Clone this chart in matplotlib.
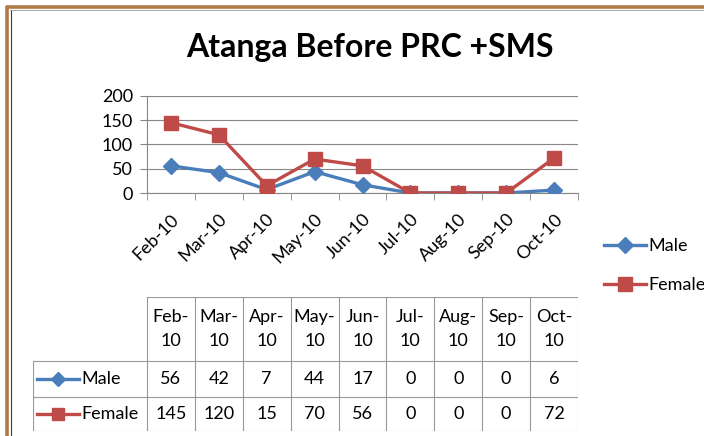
import matplotlib
matplotlib.use('Agg')
import matplotlib.pyplot as plt
from matplotlib.lines import Line2D
import numpy as np

plt.rcParams['font.family'] = ['Lato', 'DejaVu Sans']

title = 'Atanga Before PRC +SMS'
months = ['Feb-10', 'Mar-10', 'Apr-10', 'May-10', 'Jun-10', 'Jul-10', 'Aug-10', 'Sep-10', 'Oct-10']
male = [56, 42, 7, 44, 17, 0, 0, 0, 6]
female = [145, 120, 15, 70, 56, 0, 0, 0, 72]

BLUE = '#4a7ebb'
RED = '#be4b48'
GRID = '#878787'

W, H = 704, 436
fig = plt.figure(figsize=(W / 100, H / 100), dpi=100)


def fx(px):
    return px / W


def fy(py):
    return 1 - py / H


# brown frame round the chart (top and left edges are visible)
fig.add_artist(Line2D([fx(6), fx(704)], [fy(7.5), fy(7.5)], color='#b07a45', lw=2.6,
                      solid_capstyle='butt'))
fig.add_artist(Line2D([fx(7.5), fx(7.5)], [fy(6), fy(436)], color='#b07a45', lw=2.6,
                      solid_capstyle='butt'))
fig.add_artist(Line2D([fx(10.5), fx(10.5)], [fy(10), fy(436)], color='#3a3a3a', lw=0.8))
fig.add_artist(Line2D([fx(10), fx(704)], [fy(10.5), fy(10.5)], color='#9a9a9a', lw=0.6))

fig.text(fx(370), fy(48), title, ha='center', va='center', fontsize=23, fontweight='bold')

# line chart
x = np.arange(len(months))
ax = fig.add_axes([fx(147), fy(193), fx(578) - fx(147), fy(96) - fy(193)])
ax.plot(x, male, color=BLUE, lw=2.4, marker='D', ms=8, mec=BLUE, mfc=BLUE, label='Male', zorder=3)
ax.plot(x, female, color=RED, lw=2.4, marker='s', ms=10, mec=RED, mfc=RED, label='Female', zorder=4)
ax.set_xlim(-0.5, len(months) - 0.5)
ax.set_ylim(0, 200)
ax.set_yticks([0, 50, 100, 150, 200])
ax.yaxis.grid(True, color=GRID, lw=0.8)
ax.set_axisbelow(True)
for s in ['top', 'right']:
    ax.spines[s].set_visible(False)
for s in ['left', 'bottom']:
    ax.spines[s].set_color(GRID)
    ax.spines[s].set_linewidth(0.8)
ax.tick_params(axis='y', length=5, color=GRID, labelsize=13, pad=5)
ax.set_xticks(x)
ax.set_xticklabels(months, rotation=45, ha='right', va='top', rotation_mode='anchor', fontsize=13)
ax.tick_params(axis='x', which='major', length=0, pad=13)
ax.set_xticks(np.arange(-0.5, len(months)), minor=True)
ax.tick_params(axis='x', which='minor', length=5, color=GRID)

fig.legend(handles=ax.get_lines(), loc='upper left', bbox_to_anchor=(fx(604), fy(238)),
           frameon=False, fontsize=13, handlelength=2.3, handletextpad=0.15,
           labelspacing=1.3, borderpad=0, borderaxespad=0)

# data table under the chart
left_px = 33
tax = fig.add_axes([fx(left_px), fy(431), fx(578) - fx(left_px), fy(297) - fy(431)])
col_w = (578 - 147) / len(months)
x0 = -0.5 - (147 - left_px) / col_w
tax.set_xlim(x0, len(months) - 0.5)
tax.set_ylim(431, 297)
tax.axis('off')
rows = [297, 361, 397, 431]
lc = '#999999'
# horizontal lines
tax.plot([-0.5, len(months) - 0.5], [rows[0]] * 2, color=lc, lw=0.8)
for r in rows[1:]:
    tax.plot([x0, len(months) - 0.5], [r, r], color=lc, lw=0.8)
# vertical lines
for c in np.arange(-0.5, len(months)):
    tax.plot([c, c], [rows[0], rows[3]], color=lc, lw=0.8)
tax.plot([x0, x0], [rows[1], rows[3]], color=lc, lw=0.8)

for i, m in enumerate(months):
    tax.text(i, (rows[0] + rows[1]) / 2, m.replace('-', '-\n'), ha='center', va='center',
             fontsize=13, linespacing=1.55)
    tax.text(i, (rows[1] + rows[2]) / 2, str(male[i]), ha='center', va='center', fontsize=13)
    tax.text(i, (rows[2] + rows[3]) / 2, str(female[i]), ha='center', va='center', fontsize=13)

# legend keys in the row headers
kx0 = x0 + (37 - left_px) / col_w
kx1 = x0 + (79 - left_px) / col_w
tx = x0 + (81 - left_px) / col_w
for (lab, col, mk, ms), r0, r1 in zip([('Male', BLUE, 'D', 7), ('Female', RED, 's', 9)], rows[1:3], rows[2:4]):
    yc = (r0 + r1) / 2
    tax.plot([kx0, kx1], [yc, yc], color=col, lw=2.4)
    tax.plot([(kx0 + kx1) / 2], [yc], marker=mk, ms=ms, color=col)
    tax.text(tx, yc, lab, ha='left', va='center', fontsize=13)

fig.savefig('out.png', dpi=100)
